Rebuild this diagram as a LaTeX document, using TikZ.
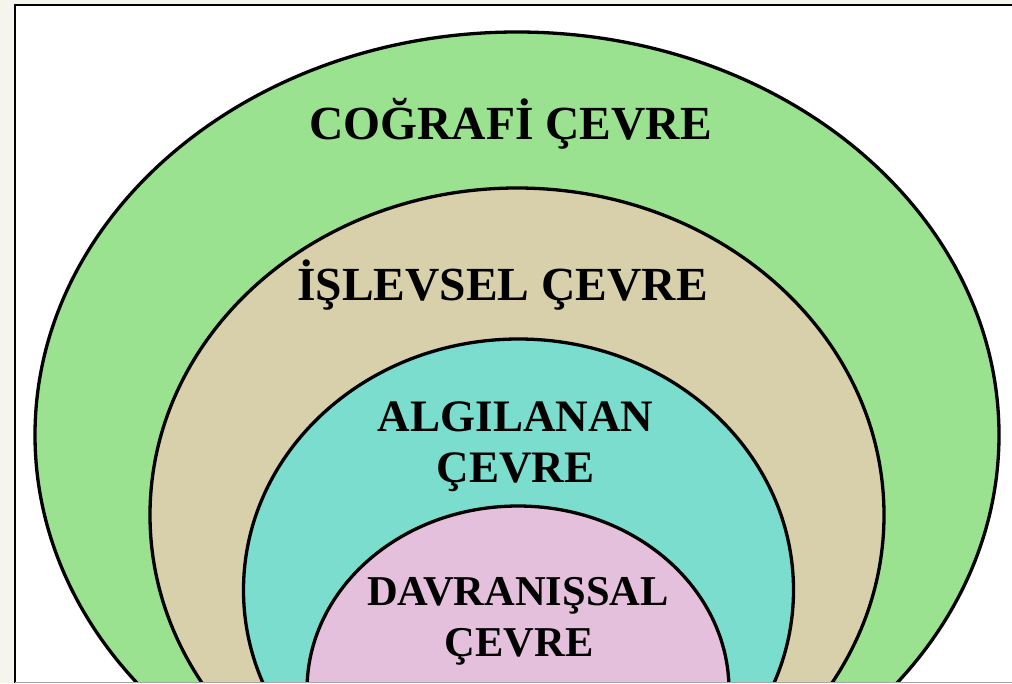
\documentclass[tikz,border=0pt]{standalone}
\usepackage{fontspec}
\setmainfont{Liberation Serif}
\definecolor{pagefill}{RGB}{245, 245, 238}
\definecolor{geofill}{RGB}{154, 226, 143}
\definecolor{funcfill}{RGB}{215, 208, 170}
\definecolor{percfill}{RGB}{122, 221, 206}
\definecolor{behavfill}{RGB}{228, 192, 220}
\usetikzlibrary{positioning}
\tikzset{
    ring/.style={draw=black, line width=3.3pt},
    ringlabel/.style={font=\bfseries\fontsize{#1}{51}\selectfont, align=center,
        inner sep=0pt, anchor=base},
}

\begin{document}
\begin{tikzpicture}[x=1pt, y=-1pt]
        \useasboundingbox (0, 0) rectangle (1012, 683);
        \fill[pagefill] (0, 0) rectangle (1012, 683);
        \fill[white] (15, 5) rectangle (1012, 682);
        \coordinate (geocentre) at (517, 435);
        \coordinate (funccentre) at (517, 515);
        \coordinate (perccentre) at (518.5, 590);
        \coordinate (behavcentre) at (518, 690);
        \begin{scope}
            \clip (15, 5) rectangle (1012, 682);
            \fill[geofill, ring] (geocentre) ellipse [x radius=482pt, y radius=403pt];
            \fill[funcfill, ring] (funccentre) ellipse [x radius=367pt, y radius=327pt];
            \fill[percfill, ring] (perccentre) ellipse [x radius=275pt, y radius=251pt];
            \fill[behavfill, ring] (behavcentre) ellipse [x radius=211pt, y radius=184pt];
        \end{scope}
        \draw[line width=1.5pt] (15, 683) -- (15, 5) -- (1012, 5);
        \draw[gray!70, line width=1pt] (15, 682.5) -- (1012, 682.5);
        \node[ringlabel=47.5] (geo) at (510.5, 139) {COĞRAFİ ÇEVRE};
        \node[ringlabel=47.5] (func) at (502.5, 300) {İŞLEVSEL ÇEVRE};
        \node[ringlabel=45] (perc) at (515.5, 431) {ALGILANAN};
        \node[ringlabel=45] (percsub) at (515.5, 482) {ÇEVRE};
        \node[ringlabel=42.5] (behav) at (518, 605) {DAVRANIŞSAL};
        \node[ringlabel=42.5] (behavsub) at (519, 656) {ÇEVRE};
    \end{tikzpicture}
\end{document}
